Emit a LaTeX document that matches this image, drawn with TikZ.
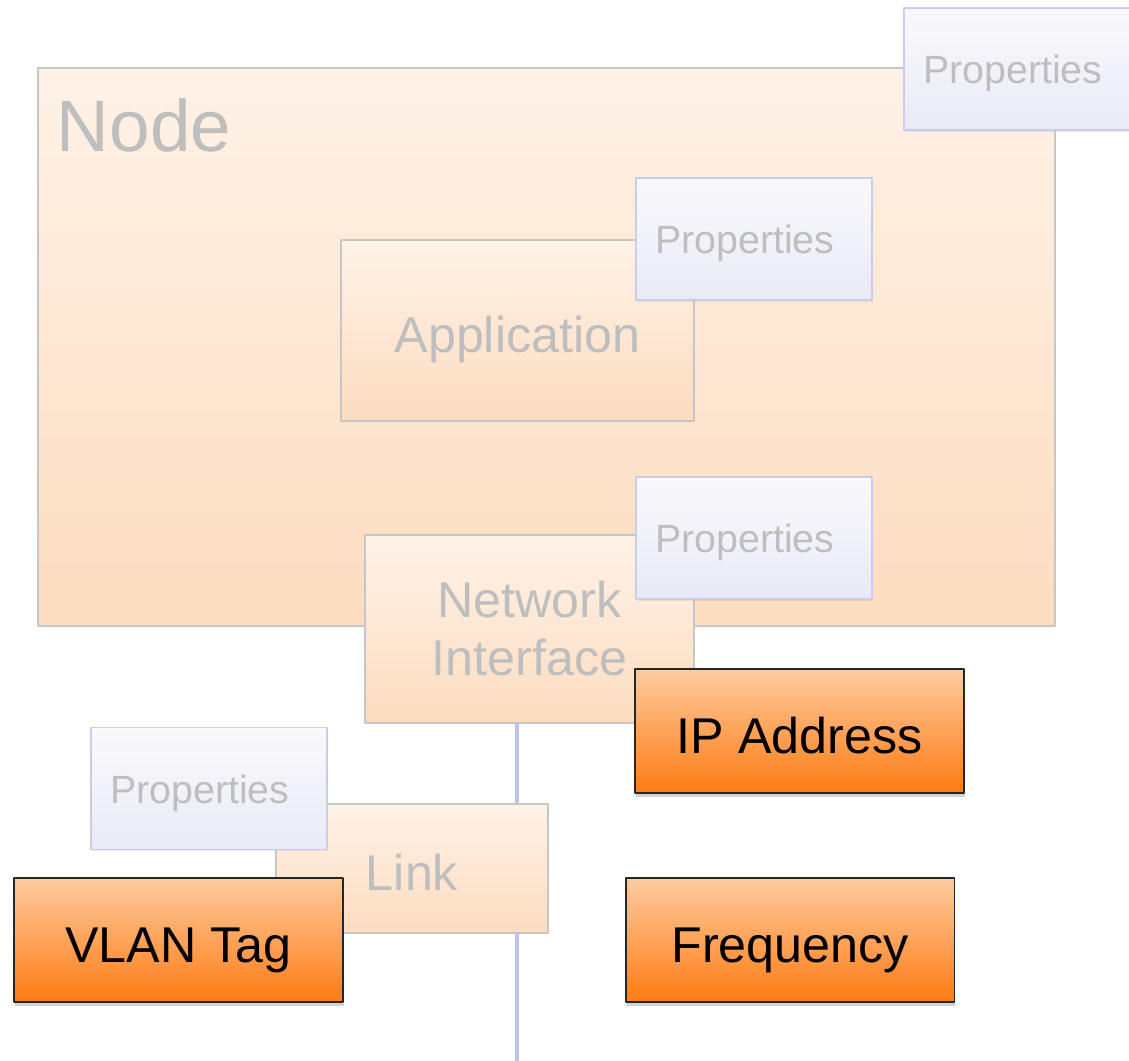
\documentclass[tikz,border=0pt]{standalone}
\usepackage{fontspec}
\setmainfont{Liberation Sans}
\usetikzlibrary{shadows,backgrounds}
\definecolor{peachtop}{HTML}{FEF2E7}
\definecolor{peachbot}{HTML}{FDDCC0}
\definecolor{greytext}{HTML}{BEBEBE}
\definecolor{greyline}{HTML}{C6C6C6}
\definecolor{proptop}{HTML}{F9F9FC}
\definecolor{propbot}{HTML}{EAEAF7}
\definecolor{propline}{HTML}{C9CCEA}
\definecolor{orangetop}{HTML}{FDCBA0}
\definecolor{orangebot}{HTML}{FD7B12}
\definecolor{busline}{HTML}{BEC4E6}
\begin{document}
\begin{tikzpicture}[x=0.02cm, y=-0.02cm, line join=round,
	block/.style={draw=greyline, line width=0.8pt, top color=peachtop, bottom color=peachbot, text=greytext, font=\fontsize{28.6}{33}\selectfont, align=center, inner sep=0pt},
	oneline/.style={text height=0.88cm, text depth=0pt},
	prop/.style={draw=propline, line width=0.8pt, top color=proptop, bottom color=propbot, text=greytext, font=\fontsize{22.4}{26}\selectfont, minimum height=2.44cm, text width=3.96cm, align=left, inner xsep=0.38cm, inner ysep=0pt, text height=0.58cm, text depth=0pt, drop shadow={shadow xshift=0.3pt, shadow yshift=-1pt, opacity=0.15}},
	attr/.style={draw=black!85, line width=1.1pt, top color=orangetop, bottom color=orangebot, text=black, font=\fontsize{28.6}{33}\selectfont, minimum width=6.58cm, minimum height=2.48cm, inner sep=0pt, oneline, drop shadow={shadow xshift=0.5pt, shadow yshift=-2pt, opacity=0.35}},
	title/.style={text=greytext, font=\fontsize{41.5}{48}\selectfont, inner sep=0pt}]
	\useasboundingbox (0,0) rectangle (1129,1061);
	% Node
	\node[block, minimum width=20.34cm, minimum height=11.16cm] (node) at (546.5,347) {};
	\node[title, anchor=base west] (nodetitle) at (56.5,152) {Node};
	\node[prop] (propnode) at (1022,69) {Properties};
	% Application
	\node[block, oneline, minimum width=7.06cm, minimum height=3.62cm] (app) at (517.5,330.5) {Application};
	\node[prop] (propapp) at (754,239) {Properties};
	% Network Interface
	\node[block, minimum width=6.58cm, minimum height=3.76cm] (ni) at (529.5,629) {Network\\Interface};
	\coordinate (busend) at (517,1061);
	\begin{scope}[on background layer]
		\draw[busline, line width=2.8pt] (ni.south -| busend) -- (busend);
	\end{scope}
	\node[prop] (propni) at (754,538) {Properties};
	\node[attr] (ip) at (799.5,731) {IP Address};
	% Link
	\node[block, oneline, minimum width=5.44cm, minimum height=2.58cm] (link) at (412,868.5) {Link};
	\node[prop] (proplink) at (209,788.5) {Properties};
	\node[attr] (vlan) at (178.5,940) {VLAN Tag};
	\node[attr] (freq) at (790,940) {Frequency};
\end{tikzpicture}
\end{document}
